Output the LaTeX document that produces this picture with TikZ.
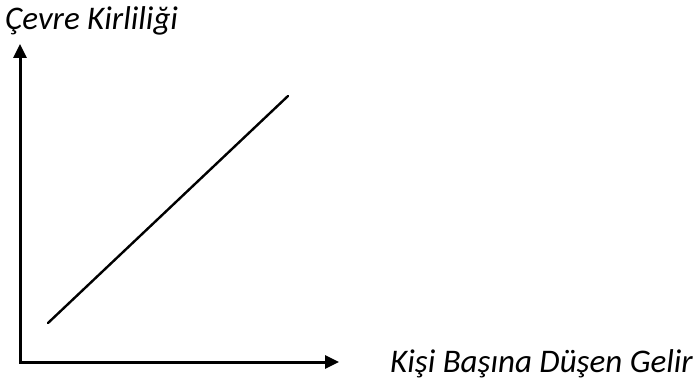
\documentclass[tikz,border=0pt]{standalone}
\usepackage{fontspec}
\setmainfont{Carlito}
\usetikzlibrary{arrows.meta}
\begin{document}
\begin{tikzpicture}[x=1pt, y=-1pt, line join=miter, >={Triangle[length=14pt,width=13pt]},
	font=\itshape\fontsize{33}{38}\selectfont]
	\useasboundingbox (0,0) rectangle (700,385);
	\coordinate (O) at (20,362);
	\coordinate (xend) at (339,362);
	\coordinate (yend) at (20,44);
	\coordinate (A) at (48,323);
	\coordinate (B) at (288,96);
	\draw[<->, line width=3pt] (yend) -- (O) -- (xend);
	\draw[line width=2.4pt, line cap=round] (A) -- (B);
	\node[anchor=base west, inner sep=0pt] (ylabel) at (5,30) {Çevre Kirliliği};
	\node[anchor=base west, inner sep=0pt] (xlabel) at (390,372) {Kişi Başına Düşen Gelir};
\end{tikzpicture}
\end{document}
